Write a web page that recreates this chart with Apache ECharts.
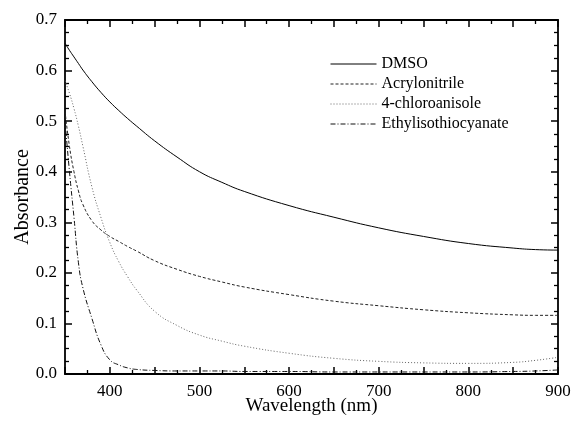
<!DOCTYPE html>
<html>
<head>
<meta charset="utf-8">
<script src="https://cdn.jsdelivr.net/npm/echarts@6/dist/echarts.min.js"></script>
<style>
  html, body { margin: 0; padding: 0; background: #fff; }
  #chart { width: 574px; height: 422px; }
</style>
</head>
<body>
<div id="chart"></div>
<script>
  // wavelength (nm) shared by all curves
  var wavelength = [350, 355, 360, 365, 370, 380, 390, 400, 410, 420, 430, 450, 475, 500, 525, 550, 600, 650, 700, 750, 800, 850, 875, 900];
  var dmso = [0.654, 0.640, 0.627, 0.614, 0.601, 0.578, 0.557, 0.538, 0.521, 0.505, 0.490, 0.461, 0.429, 0.400, 0.379, 0.361, 0.333, 0.310, 0.289, 0.272, 0.258, 0.249, 0.246, 0.245];
  var acrylonitrile = [0.520, 0.450, 0.400, 0.362, 0.335, 0.303, 0.285, 0.272, 0.262, 0.252, 0.243, 0.224, 0.207, 0.193, 0.182, 0.172, 0.157, 0.144, 0.135, 0.127, 0.121, 0.117, 0.116, 0.116];
  var chloroanisole = [0.580, 0.555, 0.525, 0.490, 0.450, 0.370, 0.310, 0.260, 0.222, 0.192, 0.166, 0.124, 0.096, 0.077, 0.065, 0.055, 0.041, 0.031, 0.025, 0.022, 0.021, 0.023, 0.027, 0.033];
  var ethyl = [0.500, 0.400, 0.310, 0.220, 0.170, 0.110, 0.058, 0.028, 0.018, 0.012, 0.009, 0.007, 0.006, 0.006, 0.006, 0.005, 0.005, 0.004, 0.004, 0.004, 0.004, 0.005, 0.006, 0.008];
  var seriesNames = ['DMSO', 'Acrylonitrile', '4-chloroanisole', 'Ethylisothiocyanate'];
  var xTicks = [400, 500, 600, 700, 800, 900];

  function pairs(vals) {
    return wavelength.map(function (w, i) { return [w, vals[i]]; });
  }

  var font = 'Liberation Serif';
  var chart = echarts.init(document.getElementById('chart'));

  // shared axis look: black frame, inward ticks
  function axisBase(show) {
    return {
      axisLine: { show: true, onZero: false, lineStyle: { color: '#000', width: 1.8 } },
      axisTick: { show: true, inside: true, length: 7, lineStyle: { color: '#000', width: 1.5 } },
      minorTick: { show: true, splitNumber: 4, length: 4, lineStyle: { color: '#000', width: 1.3 } },
      splitLine: { show: false },
      axisLabel: { show: show, color: '#000', fontFamily: font, fontSize: 17 }
    };
  }

  var xBottom = Object.assign(axisBase(true), {
    type: 'value', min: 350, max: 900, interval: 50, position: 'bottom',
    name: 'Wavelength (nm)', nameLocation: 'middle', nameGap: 23, nameMoveOverlap: false,
    nameTextStyle: { fontFamily: font, fontSize: 19, color: '#000' }
  });
  xBottom.axisLabel.formatter = function (v) { return xTicks.indexOf(v) >= 0 ? String(v) : ''; };
  xBottom.axisLabel.margin = 9;
  xBottom.minorTick.splitNumber = 2;
  var xTop = Object.assign(axisBase(false), { type: 'value', min: 350, max: 900, interval: 50, position: 'top' });
  xTop.minorTick.splitNumber = 2;

  var yLeft = Object.assign(axisBase(true), {
    type: 'value', min: 0, max: 0.7, interval: 0.1, position: 'left',
    name: 'Absorbance', nameLocation: 'middle', nameGap: 32, nameRotate: 90, nameMoveOverlap: false,
    nameTextStyle: { fontFamily: font, fontSize: 20, color: '#000' }
  });
  yLeft.axisLabel.formatter = function (v) { return v.toFixed(1); };
  yLeft.axisLabel.margin = 8;
  var yRight = Object.assign(axisBase(false), { type: 'value', min: 0, max: 0.7, interval: 0.1, position: 'right' });

  var styles = [
    { color: '#000', width: 1, type: 'solid' },
    { color: '#222', width: 1, type: [3, 2] },
    { color: '#666', width: 1, type: [1, 2] },
    { color: '#111', width: 1, type: [5, 2, 1, 2] }
  ];
  var values = [dmso, acrylonitrile, chloroanisole, ethyl];

  var series = seriesNames.map(function (name, i) {
    return {
      name: name, type: 'line', xAxisIndex: 0, yAxisIndex: 0,
      data: pairs(values[i]), symbol: 'none', smooth: 0.5,
      lineStyle: styles[i], itemStyle: { color: styles[i].color }
    };
  });

  chart.setOption({
    backgroundColor: '#fff',
    animation: false,
    grid: { left: 65, right: 16, top: 20, bottom: 48, containLabel: false, outerBoundsMode: 'none' },
    legend: {
      show: true,
      orient: 'vertical', left: 325, top: 51,
      itemWidth: 46, itemHeight: 10, itemGap: 4,
      itemStyle: { opacity: 0 },
      lineStyle: { width: 1 },
      textStyle: { fontFamily: font, fontSize: 16, color: '#000' },
      data: seriesNames
    },
    xAxis: [xBottom, xTop],
    yAxis: [yLeft, yRight],
    series: series
  });
</script>
</body>
</html>
